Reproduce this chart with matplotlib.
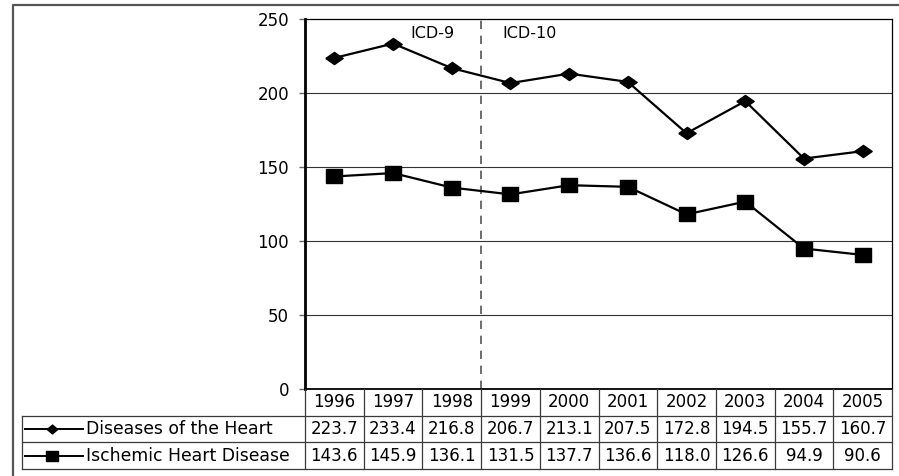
import matplotlib
matplotlib.use('Agg')
import matplotlib.pyplot as plt
from matplotlib.lines import Line2D

# ---- data ----
years = ['1996', '1997', '1998', '1999', '2000', '2001', '2002', '2003', '2004', '2005']
heart = [223.7, 233.4, 216.8, 206.7, 213.1, 207.5, 172.8, 194.5, 155.7, 160.7]
ischemic = [143.6, 145.9, 136.1, 131.5, 137.7, 136.6, 118.0, 126.6, 94.9, 90.6]
series_names = ['Diseases of the Heart', 'Ischemic Heart Disease']
yticks = [0, 50, 100, 150, 200, 250]
era_labels = ['ICD-9', 'ICD-10']
era_break = 2.5          # between 1998 and 1999 (category index)
era_label_y = 240.5

plt.rcParams['font.family'] = ['DejaVu Sans']

W, H = 899, 476
fig = plt.figure(figsize=(W / 100, H / 100), dpi=100)
fig.patch.set_facecolor('white')


def rect(l, t, r, b):
    return [l / W, 1 - b / H, (r - l) / W, (b - t) / H]


PL, PT, PR, PB = 305, 19, 892, 389
ax = fig.add_axes(rect(PL, PT, PR, PB))
x = list(range(len(years)))

diamond = [(-1, 0), (0, 0.7), (1, 0), (0, -0.7), (-1, 0)]
square = [(-1, -0.78), (1, -0.78), (1, 0.78), (-1, 0.78), (-1, -0.78)]
series = [(heart, diamond, 12.5), (ischemic, square, 12)]

for vals, mk, ms in series:
    ax.plot(x, vals, color='black', lw=1.6, marker=mk, ms=ms,
            mfc='black', mec='black', zorder=3)

ax.set_xlim(-0.5, len(years) - 0.5)
ax.set_ylim(yticks[0], yticks[-1])
ax.set_yticks(yticks)
ax.set_xticks([])
for yv in yticks[1:-1]:
    ax.axhline(yv, color='#333333', lw=0.8, zorder=1)

for s in ['top', 'right']:
    ax.spines[s].set_linewidth(0.9)
    ax.spines[s].set_color('black')
ax.spines['left'].set_linewidth(2.0)
ax.spines['bottom'].set_linewidth(1.3)
ax.tick_params(axis='y', length=4.5, width=1, color='#666666', pad=7,
               labelsize=12, labelcolor='black')

ax.axvline(era_break, color='#555555', lw=1.2, ls=(0, (5, 4)), zorder=2)
ax.annotate(era_labels[0], xy=(era_break, era_label_y), xytext=(-19, 0),
            textcoords='offset points', ha='right', va='center', fontsize=11.5)
ax.annotate(era_labels[1], xy=(era_break, era_label_y), xytext=(15, 0),
            textcoords='offset points', ha='left', va='center', fontsize=11.5)

# ---- data table ----
TL, TB = 22, 469
axt = fig.add_axes(rect(TL, PB, PR, TB))
ppu = (PR - PL) / len(years)
xl = -0.5 - (PL - TL) / ppu
xr = len(years) - 0.5
axt.set_xlim(xl, xr)
axt.set_ylim(3, 0)
axt.axis('off')

lc = '#3a3a3a'
for i in range(len(years) + 1):
    axt.plot([i - 0.5, i - 0.5], [0, 3], color=lc, lw=0.9, clip_on=False)
for r in [1, 2, 3]:
    axt.plot([xl, xr], [r, r], color=lc, lw=0.9, clip_on=False)
axt.plot([xl, xl], [1, 3], color=lc, lw=0.9, clip_on=False)

for i, yr in enumerate(years):
    axt.text(i, 0.5, yr, ha='center', va='center', fontsize=12)
for row, (vals, mk, ms) in enumerate(series, start=1):
    for i, v in enumerate(vals):
        axt.text(i, row + 0.5, f'{v:.1f}', ha='center', va='center', fontsize=12)

legend_markers = [([(-1, 0), (0, 0.85), (1, 0), (0, -0.85), (-1, 0)], 7.5),
                  ([(-1, -0.82), (1, -0.82), (1, 0.82), (-1, 0.82), (-1, -0.82)], 8.8)]
for row, (name, (lmk, lms)) in enumerate(zip(series_names, legend_markers), start=1):
    axt.plot([xl + 3 / ppu, xl + 61 / ppu], [row + 0.5, row + 0.5],
             color='black', lw=1.4, clip_on=False)
    axt.plot([xl + 30 / ppu], [row + 0.5], marker=lmk, ms=lms,
             color='black', clip_on=False)
    axt.text(xl + 64 / ppu, row + 0.5, name, ha='left', va='center', fontsize=12.4)

# ---- outer border ----
fig.add_artist(Line2D([13 / W, 13 / W, 1.01], [-0.01, 1 - 5 / H, 1 - 5 / H],
                      transform=fig.transFigure, color='#555555', lw=1.6,
                      solid_capstyle='butt'))

fig.savefig('out.png', dpi=100)
